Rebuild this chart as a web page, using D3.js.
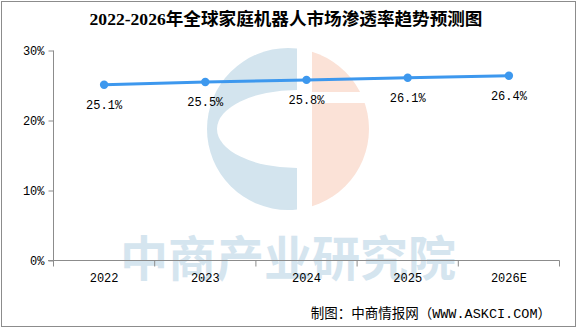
<!DOCTYPE html>
<html>
<head>
<meta charset="utf-8">
<script src="https://cdn.jsdelivr.net/npm/d3@7"></script>
<style>
    body { margin: 0; background: #fff; }
    svg { display: block; }
</style>
</head>
<body>
<div id="chart"></div>
<script>
var years = ["2022", "2023", "2024", "2025", "2026E"];
var rates = [25.1, 25.5, 25.8, 26.1, 26.4];
var yTicks = [0, 10, 20, 30];

function init() {
    var w = 577;
    var h = 328;
    var data = years.map(function (d, i) { return { year: d, rate: rates[i] }; });

    var svg = d3.select("#chart")
        .append("svg")
        .attr("width", w)
        .attr("height", h);

    // frame
    svg.append("rect")
        .attr("x", 1.5).attr("y", 1.5)
        .attr("width", w - 3).attr("height", h - 3)
        .attr("fill", "#fff")
        .attr("stroke", "#8c8c8c");

    var x = d3.scaleBand().domain(years).range([53.5, 559.5]);
    var y = d3.scaleLinear().domain([0, 30]).range([260.5, 50.5]);

    // watermark logo
    var cx = 288, cy = 129, r = 81;
    var defs = svg.append("defs");
    defs.append("clipPath").attr("id", "leftHalf")
        .append("rect").attr("x", cx - r).attr("y", cy - r).attr("width", 297 - (cx - r)).attr("height", 2 * r);
    defs.append("clipPath").attr("id", "rightHalf")
        .append("rect").attr("x", 312).attr("y", cy - r).attr("width", 100).attr("height", 2 * r);
    svg.append("circle").attr("cx", cx).attr("cy", cy).attr("r", r)
        .attr("fill", "#d3e4ee").attr("clip-path", "url(#leftHalf)");
    svg.append("ellipse").attr("cx", 297).attr("cy", 129).attr("rx", 80).attr("ry", 39)
        .attr("fill", "#fff").attr("clip-path", "url(#leftHalf)");
    svg.append("circle").attr("cx", cx).attr("cy", cy).attr("r", r)
        .attr("fill", "#fbe2d7").attr("clip-path", "url(#rightHalf)");
    svg.append("rect").attr("x", 311).attr("y", 92).attr("width", 70).attr("height", 11)
        .attr("fill", "#fff");

    svg.append("text")
        .attr("x", 288).attr("y", 276)
        .attr("text-anchor", "middle")
        .attr("font-family", "'Noto Sans CJK SC', sans-serif")
        .attr("font-weight", "bold")
        .attr("font-size", "48px")
        .attr("fill", "#d5e5ef")
        .text("中商产业研究院");

    // title
    svg.append("text")
        .attr("x", 286).attr("y", 25)
        .attr("text-anchor", "middle")
        .attr("font-family", "'Liberation Serif', 'Noto Sans CJK SC', serif")
        .attr("font-weight", "bold")
        .attr("font-size", "17.6px")
        .attr("fill", "#000")
        .text("2022-2026年全球家庭机器人市场渗透率趋势预测图");

    // y axis
    var yAxis = svg.append("g")
        .attr("transform", "translate(53.5,0)")
        .call(d3.axisLeft(y).tickValues(yTicks).tickSize(5).tickPadding(4)
            .tickFormat(function (d) { return d + "%"; }));
    yAxis.select(".domain").remove();
    yAxis.selectAll("line").attr("stroke", "#8c8c8c");
    yAxis.selectAll("text")
        .attr("font-family", "'Liberation Mono', monospace")
        .attr("font-size", "12px")
        .attr("fill", "#000");
    svg.append("line")
        .attr("x1", 53.5).attr("x2", 53.5)
        .attr("y1", y(30)).attr("y2", y(0) + 6)
        .attr("stroke", "#8c8c8c");

    // x axis
    svg.append("line")
        .attr("x1", 48).attr("x2", x.range()[1])
        .attr("y1", y(0)).attr("y2", y(0))
        .attr("stroke", "#8c8c8c");
    svg.selectAll(".xtick")
        .data(years)
        .enter()
        .append("line")
        .attr("class", "xtick")
        .attr("x1", function (d) { return x(d) + x.bandwidth(); })
        .attr("x2", function (d) { return x(d) + x.bandwidth(); })
        .attr("y1", y(0)).attr("y2", y(0) + 6)
        .attr("stroke", "#8c8c8c");
    var xAxis = svg.append("g")
        .attr("transform", "translate(0," + y(0) + ")")
        .call(d3.axisBottom(x).tickSize(0).tickPadding(13));
    xAxis.select(".domain").remove();
    xAxis.selectAll("text")
        .attr("font-family", "'Liberation Mono', monospace")
        .attr("font-size", "12px")
        .attr("fill", "#000");

    // line
    var line = d3.line()
        .x(function (d) { return x(d.year) + x.bandwidth() / 2; })
        .y(function (d) { return y(d.rate); });
    svg.append("path")
        .datum(data)
        .attr("d", line)
        .attr("fill", "none")
        .attr("stroke", "#3d98ee")
        .attr("stroke-width", 3);
    svg.selectAll(".dot")
        .data(data)
        .enter()
        .append("circle")
        .attr("class", "dot")
        .attr("cx", function (d) { return x(d.year) + x.bandwidth() / 2; })
        .attr("cy", function (d) { return y(d.rate); })
        .attr("r", 4.2)
        .attr("fill", "#3d98ee");
    svg.selectAll(".lbl")
        .data(data)
        .enter()
        .append("text")
        .attr("class", "lbl")
        .attr("x", function (d) { return x(d.year) + x.bandwidth() / 2; })
        .attr("y", function (d) { return y(d.rate) + 24; })
        .attr("text-anchor", "middle")
        .attr("font-family", "'Liberation Mono', monospace")
        .attr("font-size", "12px")
        .attr("fill", "#000")
        .text(function (d) { return d.rate.toFixed(1) + "%"; });

    // source
    svg.append("text")
        .attr("x", 551).attr("y", 318)
        .attr("text-anchor", "end")
        .attr("font-family", "'Liberation Mono', 'Noto Sans CJK SC', monospace")
        .attr("font-size", "13.5px")
        .attr("fill", "#000")
        .text("制图：中商情报网（WWW.ASKCI.COM）");
}

window.onload = init;
</script>
</body>
</html>
